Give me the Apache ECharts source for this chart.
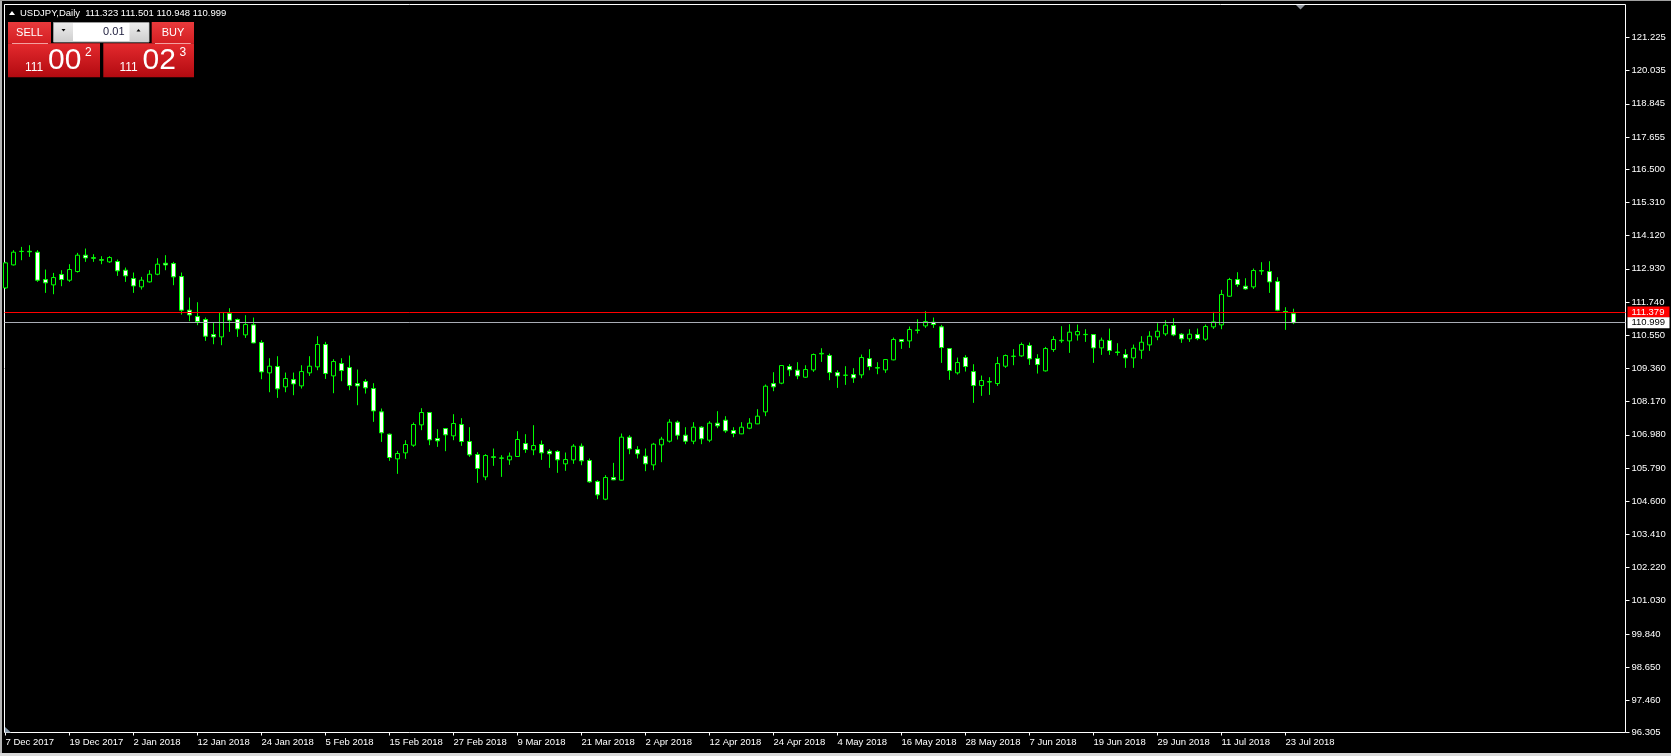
<!DOCTYPE html>
<html><head><meta charset="utf-8">
<script src="https://cdn.jsdelivr.net/npm/echarts@6/dist/echarts.min.js"></script>
<style>html,body{margin:0;padding:0;background:#000;overflow:hidden}#c{width:1671px;height:756px}</style>
</head><body><div id="c"></div>
<script>
const symbolTitle = 'USDJPY,Daily';
const dates = [
'7 Dec 2017','8 Dec 2017','11 Dec 2017','12 Dec 2017','13 Dec 2017','14 Dec 2017','15 Dec 2017','18 Dec 2017','19 Dec 2017','20 Dec 2017','21 Dec 2017','22 Dec 2017','26 Dec 2017','27 Dec 2017','28 Dec 2017','29 Dec 2017',
'2 Jan 2018','3 Jan 2018','4 Jan 2018','5 Jan 2018','8 Jan 2018','9 Jan 2018','10 Jan 2018','11 Jan 2018','12 Jan 2018','15 Jan 2018','16 Jan 2018','17 Jan 2018','18 Jan 2018','19 Jan 2018','22 Jan 2018','23 Jan 2018','24 Jan 2018','25 Jan 2018','26 Jan 2018','29 Jan 2018','30 Jan 2018','31 Jan 2018',
'1 Feb 2018','2 Feb 2018','5 Feb 2018','6 Feb 2018','7 Feb 2018','8 Feb 2018','9 Feb 2018','12 Feb 2018','13 Feb 2018','14 Feb 2018','15 Feb 2018','16 Feb 2018','19 Feb 2018','20 Feb 2018','21 Feb 2018','22 Feb 2018','23 Feb 2018','26 Feb 2018','27 Feb 2018','28 Feb 2018',
'1 Mar 2018','2 Mar 2018','5 Mar 2018','6 Mar 2018','7 Mar 2018','8 Mar 2018','9 Mar 2018','12 Mar 2018','13 Mar 2018','14 Mar 2018','15 Mar 2018','16 Mar 2018','19 Mar 2018','20 Mar 2018','21 Mar 2018','22 Mar 2018','23 Mar 2018','26 Mar 2018','27 Mar 2018','28 Mar 2018','29 Mar 2018','30 Mar 2018',
'2 Apr 2018','3 Apr 2018','4 Apr 2018','5 Apr 2018','6 Apr 2018','9 Apr 2018','10 Apr 2018','11 Apr 2018','12 Apr 2018','13 Apr 2018','16 Apr 2018','17 Apr 2018','18 Apr 2018','19 Apr 2018','20 Apr 2018','23 Apr 2018','24 Apr 2018','25 Apr 2018','26 Apr 2018','27 Apr 2018','30 Apr 2018',
'1 May 2018','2 May 2018','3 May 2018','4 May 2018','7 May 2018','8 May 2018','9 May 2018','10 May 2018','11 May 2018','14 May 2018','15 May 2018','16 May 2018','17 May 2018','18 May 2018','21 May 2018','22 May 2018','23 May 2018','24 May 2018','25 May 2018','28 May 2018','29 May 2018','30 May 2018','31 May 2018',
'1 Jun 2018','4 Jun 2018','5 Jun 2018','6 Jun 2018','7 Jun 2018','8 Jun 2018','11 Jun 2018','12 Jun 2018','13 Jun 2018','14 Jun 2018','15 Jun 2018','18 Jun 2018','19 Jun 2018','20 Jun 2018','21 Jun 2018','22 Jun 2018','25 Jun 2018','26 Jun 2018','27 Jun 2018','28 Jun 2018','29 Jun 2018',
'2 Jul 2018','3 Jul 2018','4 Jul 2018','5 Jul 2018','6 Jul 2018','9 Jul 2018','10 Jul 2018','11 Jul 2018','12 Jul 2018','13 Jul 2018','16 Jul 2018','17 Jul 2018','18 Jul 2018','19 Jul 2018','20 Jul 2018','23 Jul 2018','24 Jul 2018'
];
const openP = [
112.247,113.072,113.550,113.560,113.526,112.546,112.355,112.725,112.522,112.833,
113.419,113.330,113.260,113.180,113.192,112.881,112.582,112.283,112.462,112.737,
113.130,113.120,112.654,111.447,111.219,111.112,110.574,110.490,111.327,111.112,
110.562,110.921,110.287,109.200,109.427,108.698,108.960,108.733,109.200,109.415,
110.216,109.092,109.534,109.391,108.817,108.889,108.638,107.802,107.001,106.117,
106.332,106.607,107.336,107.778,106.846,107.204,106.942,107.348,106.738,106.272,
105.471,106.190,106.150,106.081,106.201,106.667,106.440,106.631,106.392,106.380,
105.938,106.081,106.571,106.057,105.304,104.671,105.447,105.352,106.894,106.451,
106.213,105.902,106.619,106.750,107.432,106.965,106.750,107.252,106.786,107.396,
107.503,107.133,107.013,107.216,107.372,107.802,108.818,108.830,109.428,109.296,
109.044,109.307,109.880,109.821,109.211,109.110,109.140,109.128,109.713,109.370,
109.307,109.666,110.395,110.347,110.720,110.885,111.016,110.849,110.072,109.200,
109.749,109.247,108.745,108.870,108.817,109.439,109.790,109.809,110.180,109.713,
109.271,110.036,110.350,110.347,110.562,110.570,110.574,110.096,110.359,109.950,
109.857,109.737,110.012,110.203,110.490,110.598,110.897,110.586,110.419,110.574,
110.407,110.849,110.921,111.948,112.546,112.307,112.283,112.850,112.833,112.474,
111.400,111.323
];
const closeP = [
113.144,113.526,113.560,113.540,112.522,112.427,112.618,112.546,112.905,113.419,
113.323,113.310,113.240,113.335,112.857,112.678,112.319,112.522,112.737,113.096,
113.070,112.642,111.447,111.279,111.040,110.514,110.490,111.363,111.088,110.777,
110.933,110.275,109.235,109.439,108.626,108.996,108.805,109.247,109.439,110.216,
109.176,109.606,109.283,108.745,108.733,108.662,107.837,107.049,106.165,106.308,
106.631,107.348,107.778,106.798,106.762,106.977,107.384,106.738,106.260,105.770,
106.236,106.170,106.140,106.213,106.810,106.451,106.595,106.332,106.296,106.081,
106.093,106.571,106.045,105.292,104.826,105.447,105.364,106.894,106.475,106.296,
105.938,106.643,106.822,107.432,106.965,106.750,107.252,106.834,107.396,107.300,
107.121,107.025,107.252,107.396,107.647,108.722,108.698,109.463,109.308,109.093,
109.319,109.857,109.900,109.211,109.092,109.120,109.020,109.749,109.427,109.390,
109.678,110.395,110.323,110.753,110.740,111.040,110.933,110.108,109.283,109.570,
109.427,108.745,108.925,108.890,109.534,109.821,109.800,110.215,109.702,109.498,
110.072,110.395,110.370,110.658,110.682,110.580,110.096,110.371,110.000,109.930,
109.737,110.084,110.299,110.514,110.693,110.909,110.562,110.419,110.586,110.431,
110.861,111.028,112.008,112.546,112.367,112.211,112.869,112.870,112.462,111.447,
111.380,110.999
];
const lowP = [
112.211,113.050,113.239,113.359,112.462,112.068,112.020,112.307,112.462,112.797,
113.180,113.180,113.096,113.144,112.678,112.462,112.068,112.188,112.439,112.701,
112.881,112.343,111.291,111.052,110.909,110.347,110.227,110.192,110.670,110.490,
110.454,110.260,108.972,108.506,108.303,108.506,108.399,108.638,109.092,109.295,
108.984,108.470,108.901,108.578,108.040,108.458,107.443,106.726,106.045,105.579,
106.117,106.547,107.145,106.607,106.547,106.392,106.786,106.583,106.189,105.256,
105.352,105.866,105.471,105.902,106.189,106.332,106.248,106.081,105.794,105.615,
105.687,105.938,105.890,105.256,104.671,104.635,105.352,105.340,106.284,106.129,
105.675,105.710,105.997,106.702,106.810,106.643,106.643,106.643,106.714,107.216,
107.049,106.894,107.001,107.181,107.360,107.647,108.543,108.794,109.081,108.973,
109.020,109.235,109.594,108.937,108.661,108.769,108.841,109.008,109.295,109.152,
109.200,109.650,110.060,110.096,110.610,110.813,110.813,109.558,108.949,109.140,
109.247,108.124,108.375,108.411,108.733,109.379,109.474,109.773,109.486,109.176,
109.247,109.952,110.275,109.917,110.359,110.311,109.558,109.845,109.845,109.821,
109.379,109.379,109.702,109.988,110.371,110.526,110.514,110.275,110.311,110.371,
110.347,110.777,110.765,111.925,112.283,112.176,112.211,112.713,112.068,111.411,
110.741,110.948
];
const highP = [
113.180,113.598,113.717,113.777,113.598,112.905,112.785,112.881,113.096,113.502,
113.658,113.454,113.383,113.383,113.263,112.976,112.797,112.642,112.881,113.311,
113.419,113.180,112.797,111.901,111.733,111.184,111.016,111.380,111.518,111.148,
111.267,111.184,110.371,109.725,109.797,109.211,109.211,109.474,109.797,110.514,
110.311,109.690,109.725,109.821,109.319,108.972,108.829,107.922,107.025,106.404,
106.786,107.420,107.934,107.790,107.181,107.215,107.718,107.575,107.252,106.356,
106.284,106.487,106.248,106.344,107.109,107.001,107.324,106.774,106.463,106.428,
106.344,106.643,106.667,106.129,105.352,105.531,105.973,107.025,106.965,106.571,
106.487,106.690,106.906,107.539,107.491,107.252,107.432,107.288,107.467,107.826,
107.647,107.252,107.432,107.575,107.898,108.782,109.224,109.475,109.511,109.583,
109.474,109.893,110.084,109.893,109.295,109.439,109.367,109.857,110.048,109.582,
109.690,110.466,110.400,110.861,111.124,111.411,111.184,110.921,110.080,109.749,
109.833,109.510,109.104,109.044,109.773,109.857,110.048,110.287,110.287,109.869,
110.132,110.514,110.873,110.944,110.933,110.765,110.590,110.466,110.789,110.263,
110.048,110.215,110.514,110.693,110.980,111.088,111.160,110.622,110.765,110.789,
110.933,111.387,112.176,112.606,112.809,112.594,112.941,113.168,113.203,112.630,
111.554,111.501
];
const yTickLabels = ['121.225','120.035','118.845','117.655','116.500','115.310','114.120','112.930','111.740','110.550','109.360','108.170','106.980','105.790','104.600','103.410','102.220','101.030','99.840','98.650','97.460','96.305'];
const xTickIdx = [0,8,16,24,32,40,48,56,64,72,80,88,96,104,112,120,128,136,144,152,160];
const redLineLevel = 111.379;
const bidPrice = '111.002';
const askPrice = '111.023';
const lotSize = '0.01';

const FONT = '"Liberation Sans", Arial, sans-serif';
const AX_FS = 9.5;
const last = closeP.length - 1;
const bidLine = closeP[last];
const candleData = openP.map((o, i) => [i, o, closeP[i], lowP[i], highP[i]]);
const headerText = symbolTitle + '  ' + [openP[last], highP[last], lowP[last], closeP[last]].map(v => v.toFixed(3)).join(' ');

const redGrad = {type:'linear', x:0, y:0, x2:0, y2:1, colorStops:[{offset:0,color:'#e42a2e'},{offset:1,color:'#b20a10'}]};
const btnGrad = {type:'linear', x:0, y:0, x2:0, y2:1, colorStops:[{offset:0,color:'#e83a3c'},{offset:1,color:'#d41e22'}]};
const grayGrad = {type:'linear', x:0, y:0, x2:0, y2:1, colorStops:[{offset:0,color:'#ececec'},{offset:1,color:'#cfcfcf'}]};

function tileTexts(price, x0) {
  const big = price.split('.')[0];
  const frac = price.split('.')[1];
  return [
    {type:'text', x:x0, y:67.5, z:110, style:{text:big, fill:'#fff', font:'12px ' + FONT, align:'left', verticalAlign:'middle'}},
    {type:'text', x:x0 + 23, y:61, z:110, style:{text:frac.slice(0,2), fill:'#fff', font:'30px ' + FONT, align:'left', verticalAlign:'middle'}},
    {type:'text', x:x0 + 60, y:52.5, z:110, style:{text:frac.slice(2), fill:'#fff', font:'12px ' + FONT, align:'left', verticalAlign:'middle'}}
  ];
}

const graphics = [
  {type:'rect', shape:{x:0, y:0, width:2, height:756}, style:{fill:'#b4b4b4'}, z:120},
  {type:'rect', shape:{x:0, y:0, width:1671, height:1}, style:{fill:'#a0a0a0'}, z:120},
  {type:'rect', shape:{x:0, y:753, width:1671, height:3}, style:{fill:'#d8d8d8'}, z:120},
  {type:'polygon', shape:{points:[[9,15],[15,15],[12,11]]}, style:{fill:'#ffffff'}, z:110},
  {type:'text', x:20, y:13, z:110, style:{text:headerText, fill:'#ffffff', font:'9.5px ' + FONT, align:'left', verticalAlign:'middle'}},
  {type:'polygon', shape:{points:[[1296,5],[1305,5],[1300.5,9.5]]}, style:{fill:'#8f949c'}, z:110},
  {type:'polygon', shape:{points:[[5,727],[5,732.5],[11,732.5]]}, style:{fill:'#8899aa'}, z:110},
  {type:'rect', shape:{x:8, y:22, width:43, height:21.3}, style:{fill:btnGrad}, z:100},
  {type:'rect', shape:{x:8, y:43.3, width:92, height:34}, style:{fill:redGrad}, z:100},
  {type:'line', shape:{x1:12, y1:43.5, x2:48, y2:43.5}, style:{stroke:'#f3a0a0', lineWidth:1}, z:101},
  {type:'text', x:29.5, y:32.5, z:110, style:{text:'SELL', fill:'#fff', font:'11px ' + FONT, align:'center', verticalAlign:'middle'}},
  {type:'rect', shape:{x:151.7, y:22, width:42.3, height:21.3}, style:{fill:btnGrad}, z:100},
  {type:'rect', shape:{x:103.3, y:43.3, width:90.7, height:34}, style:{fill:redGrad}, z:100},
  {type:'line', shape:{x1:155, y1:43.5, x2:190.7, y2:43.5}, style:{stroke:'#f3a0a0', lineWidth:1}, z:101},
  {type:'text', x:173, y:32.5, z:110, style:{text:'BUY', fill:'#fff', font:'11px ' + FONT, align:'center', verticalAlign:'middle'}},
  {type:'rect', shape:{x:53.5, y:22.5, width:95.5, height:19.5}, style:{fill:'#ffffff', stroke:'#9a9a9a', lineWidth:1}, z:100},
  {type:'rect', shape:{x:54, y:23, width:19, height:18.5}, style:{fill:grayGrad}, z:101},
  {type:'rect', shape:{x:129.5, y:23, width:19, height:18.5}, style:{fill:grayGrad}, z:101},
  {type:'polygon', shape:{points:[[61.5,29],[65.5,29],[63.5,31.5]]}, style:{fill:'#000'}, z:102},
  {type:'polygon', shape:{points:[[136.5,31.5],[140.5,31.5],[138.5,29]]}, style:{fill:'#000'}, z:102},
  {type:'text', x:124.5, y:32, z:110, style:{text:lotSize, fill:'#1a1a3a', font:'11px ' + FONT, align:'right', verticalAlign:'middle'}}
].concat(tileTexts(bidPrice, 25)).concat(tileTexts(askPrice, 119.5));

const lbl = {show:true, position:'end', distance:2, fontSize:AX_FS, fontFamily:FONT, lineHeight:9, padding:[1,3,1,4], width:35};

const option = {
  backgroundColor: '#000000',
  animation: false,
  textStyle: {fontFamily: FONT},
  grid: {left:4.5, top:4.5, width:1621, height:728, show:true, borderColor:'#ffffff', borderWidth:1, backgroundColor:'#000000', containLabel:false, outerBoundsMode:'none'},
  xAxis: {
    type:'value', min:-0.125, max:202.5, scale:true,
    splitLine:{show:false}, axisLine:{show:false, onZero:false},
    axisTick:{show:true, customValues:xTickIdx, length:3, lineStyle:{color:'#ffffff'}},
    axisLabel:{show:true, customValues:xTickIdx, formatter:(v) => dates[Math.round(v)] || '', align:'left', margin:5, color:'#ffffff', fontSize:AX_FS, fontFamily:FONT}
  },
  yAxis: {
    type:'value', position:'right', min:96.305, max:122.408, scale:true,
    splitLine:{show:false}, axisLine:{show:false, onZero:false},
    axisTick:{show:true, customValues:yTickLabels.map(Number), length:4, lineStyle:{color:'#ffffff'}},
    axisLabel:{show:true, customValues:yTickLabels.map(Number), formatter:(v) => v.toFixed(3), margin:6, color:'#ffffff', fontSize:AX_FS, fontFamily:FONT}
  },
  series: [{
    type:'candlestick',
    data:candleData,
    encode:{x:0, y:[1,2,3,4]},
    barWidth:4,
    clip:true,
    itemStyle:{color:'#000000', color0:'#ffffff', borderColor:'#00ff00', borderColor0:'#00ff00', borderColorDoji:'#00ff00', borderWidth:1},
    emphasis:{disabled:true},
    markLine:{
      silent:true, symbol:['none','none'], animation:false,
      data:[
        {yAxis:redLineLevel, lineStyle:{color:'#ff0000', width:1, type:'solid'}, label:Object.assign({}, lbl, {formatter:redLineLevel.toFixed(3), color:'#ffffff', backgroundColor:'#ff0000'})},
        {yAxis:bidLine, lineStyle:{color:'#a9adb5', width:1, type:'solid'}, label:Object.assign({}, lbl, {formatter:bidLine.toFixed(3), color:'#000000', backgroundColor:'#ffffff'})}
      ]
    }
  }],
  graphic: graphics
};

const chart = echarts.init(document.getElementById('c'), null, {renderer:'canvas'});
chart.setOption(option);
</script>
</body></html>
